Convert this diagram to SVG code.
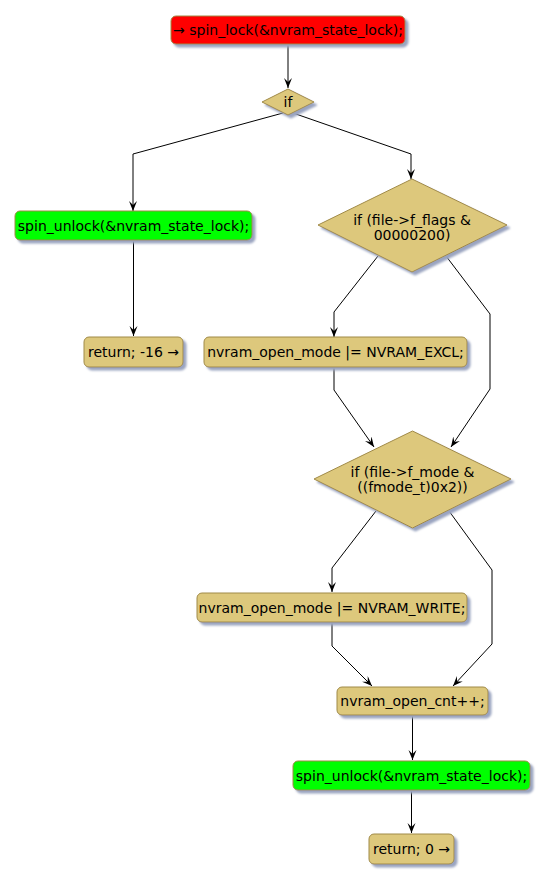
<svg xmlns="http://www.w3.org/2000/svg" width="549" height="883" viewBox="0 0 549 883">
<defs>
<style>
.box{stroke:#A08A48;stroke-width:1;filter:url(#sh)}
.act{fill:#DDC87C}
.red{fill:#FF0000}
.green{fill:#00FF00}
.t{font-family:"DejaVu Sans",sans-serif;font-size:14px;fill:#000;text-anchor:middle}
.c{fill:none;stroke:#000;stroke-width:1;marker-end:url(#ah)}
</style>
<filter id="sh" x="-10%" y="-20%" width="130%" height="160%">
<feGaussianBlur in="SourceAlpha" stdDeviation="1"/>
<feOffset dx="3" dy="3" result="o"/>
<feFlood flood-color="#9AA4C0"/>
<feComposite in2="o" operator="in" result="s"/>
<feMerge><feMergeNode in="s"/><feMergeNode in="SourceGraphic"/></feMerge>
</filter>
<marker id="ah" markerUnits="userSpaceOnUse" markerWidth="12" markerHeight="10" refX="10" refY="4" orient="auto" viewBox="0 0 12 10">
<path d="M0,0 L10,4 L0,8 L4,4 Z" fill="#000"/>
</marker>
</defs>
<g id="connectors">
<path class="c" d="M288,44 V88"/>
<path class="c" d="M283,113 L133,154 V211"/>
<path class="c" d="M293,113 L411,154 V179"/>
<path class="c" d="M133.5,240 V336"/>
<path class="c" d="M378,256 L334,312 V337"/>
<path class="c" d="M446,256 L490,314 V389 L451,447"/>
<path class="c" d="M334,367 V390 L374,447"/>
<path class="c" d="M376,511 L332,568 V592"/>
<path class="c" d="M449,511 L492,570 V644 L453,686"/>
<path class="c" d="M332,622 V646 L372,686"/>
<path class="c" d="M412.5,715 V760"/>
<path class="c" d="M411.5,790 V833"/>
</g>
<g id="n1">
<rect class="box red" x="171" y="16" width="234" height="28" rx="5"/>
<text class="t" x="288" y="35">→ spin_lock(&amp;nvram_state_lock);</text>
</g>
<g id="n2">
<polygon class="box act" points="288,89 314,102 288,115 262,102"/>
<text class="t" x="288" y="107">if</text>
</g>
<g id="n3">
<rect class="box green" x="15" y="211" width="237" height="29" rx="5"/>
<text class="t" x="133.5" y="230.5">spin_unlock(&amp;nvram_state_lock);</text>
</g>
<g id="n4">
<rect class="box act" x="84" y="337" width="99" height="30" rx="5"/>
<text class="t" x="133.5" y="357">return; -16 →</text>
</g>
<g id="n5">
<polygon class="box act" points="412,179 507,225 412,272 318,225"/>
<text class="t" x="412" y="225">if (file-&gt;f_flags &amp;</text>
<text class="t" x="412" y="240">00000200)</text>
</g>
<g id="n6">
<rect class="box act" x="204" y="337" width="263" height="30" rx="5"/>
<text class="t" x="335.5" y="357">nvram_open_mode |= NVRAM_EXCL;</text>
</g>
<g id="n7">
<polygon class="box act" points="412.5,431 511,479 412.5,528 314,479"/>
<text class="t" x="412.5" y="477">if (file-&gt;f_mode &amp;</text>
<text class="t" x="412.5" y="492">((fmode_t)0x2))</text>
</g>
<g id="n8">
<rect class="box act" x="197" y="593" width="270" height="29" rx="5"/>
<text class="t" x="332" y="612.5">nvram_open_mode |= NVRAM_WRITE;</text>
</g>
<g id="n9">
<rect class="box act" x="337" y="687" width="151" height="28" rx="5"/>
<text class="t" x="412.5" y="706">nvram_open_cnt++;</text>
</g>
<g id="n10">
<rect class="box green" x="293" y="761" width="237" height="29" rx="5"/>
<text class="t" x="411.5" y="780.5">spin_unlock(&amp;nvram_state_lock);</text>
</g>
<g id="n11">
<rect class="box act" x="369" y="834" width="85" height="30" rx="5"/>
<text class="t" x="411.5" y="854">return; 0 →</text>
</g>
</svg>
